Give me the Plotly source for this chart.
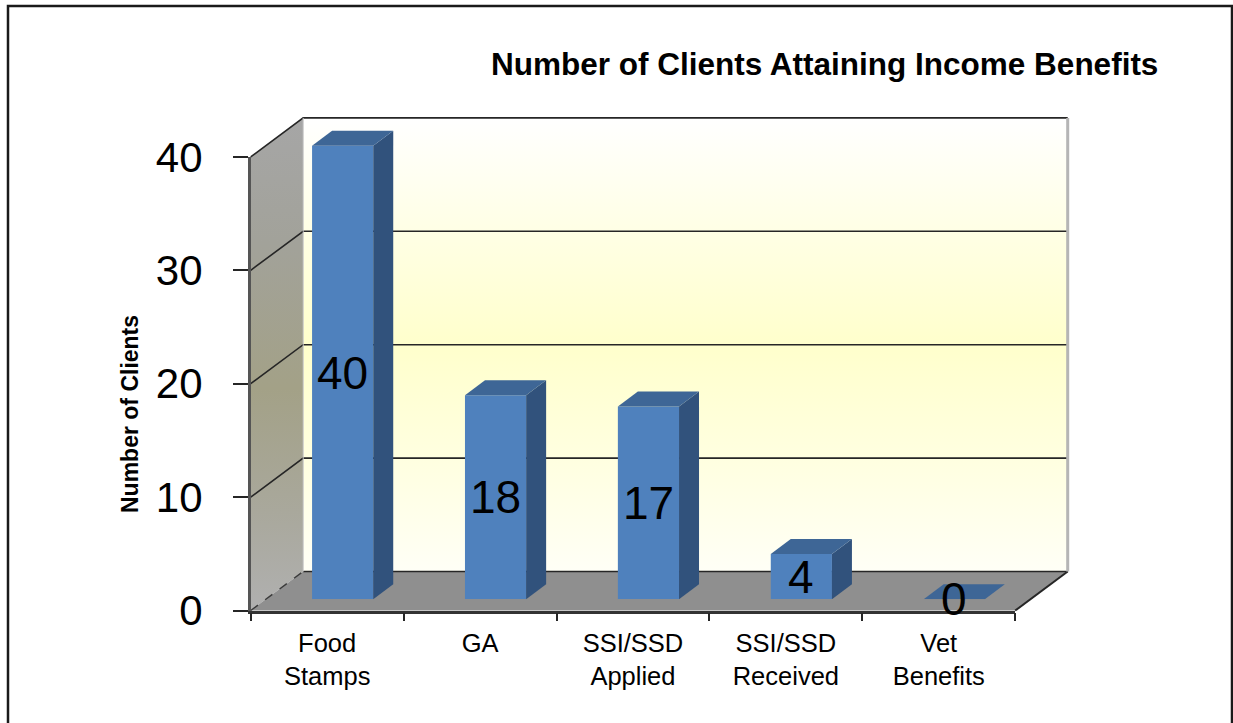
import plotly.graph_objects as go

# ---- data -------------------------------------------------------------
categories = ["Food Stamps", "GA", "SSI/SSD Applied", "SSI/SSD Received", "Vet Benefits"]
tick_labels = ["Food<br>Stamps", "GA", "SSI/SSD<br>Applied", "SSI/SSD<br>Received", "Vet<br>Benefits"]
clients = [40, 18, 17, 4, 0]
y_ticks = [0, 10, 20, 30, 40]

title_text = "Number of Clients Attaining Income Benefits"
y_title = "Number of Clients"

# ---- page / 3-D box geometry (pixels) ----------------------------------
W, H = 1233, 723
FONT = "Liberation Sans, Arial, sans-serif"

FRONT_LEFT = 250.7          # left edge of the front plane
CAT_PX = 152.9              # width of one category slot
FRONT_BASE = 610.5          # value 0 on the front plane
UNIT_PX = 11.34             # pixels per client
WALL_DX, WALL_DY = 52.5, 39.0        # depth of the box
BAR_DX, BAR_DY = 15.5, 11.2          # bar front face sits this far back
BAR_DEPTH_DX, BAR_DEPTH_DY = 20.0, 15.0
BAR_WIDTH = 0.4

n = len(categories)
FRONT_RIGHT = FRONT_LEFT + n * CAT_PX
y_max = max(y_ticks)
BAR_X_MAX = n - 0.5 + 0.4
BAR_Y_MAX = y_max * 1.1


def py(v):
    """pixel row of value v on the front plane"""
    return FRONT_BASE - v * UNIT_PX


def fx(px):
    return px / W


def fy(p):
    return 1 - p / H


top_front, base_front = py(y_max), py(0)
top_back, base_back = top_front - WALL_DY, base_front - WALL_DY
left_back, right_back = FRONT_LEFT + WALL_DX, FRONT_RIGHT + WALL_DX

fig = go.Figure()

# ---- walls and floor (pixel frame subplot) -----------------------------
fig.add_trace(go.Scatter(
    x=[FRONT_LEFT, left_back, left_back, FRONT_LEFT, FRONT_LEFT],
    y=[top_front, top_back, base_back, base_front, top_front],
    fill="toself", mode="lines", line=dict(width=0),
    fillgradient=dict(type="vertical", start=top_back, stop=base_front,
                      colorscale=[[0, "#A6A6A6"], [0.25, "#A2A29A"], [0.55, "#A3A187"],
                                  [0.8, "#A9A89C"], [1, "#B0B0B0"]]),
    hoverinfo="skip", xaxis="x", yaxis="y"))

fig.add_trace(go.Scatter(
    x=[left_back, right_back, right_back, left_back, left_back],
    y=[top_back, top_back, base_back, base_back, top_back],
    fill="toself", mode="lines", line=dict(width=0),
    fillgradient=dict(type="vertical", start=top_back, stop=base_back,
                      colorscale=[[0, "#FFFFFF"], [0.2, "#FFFFEA"], [0.5, "#FFFFCC"],
                                  [0.8, "#FFFFE4"], [1, "#FFFFF6"]]),
    hoverinfo="skip", xaxis="x", yaxis="y"))

fig.add_trace(go.Scatter(
    x=[FRONT_LEFT, FRONT_RIGHT, right_back, left_back, FRONT_LEFT],
    y=[base_front, base_front, base_back, base_back, base_front],
    fill="toself", fillcolor="#8F8F8F", mode="lines", line=dict(width=0),
    hoverinfo="skip", xaxis="x", yaxis="y"))

# gridlines: diagonal across the side wall, then along the back wall
gx, gy = [], []
for v in y_ticks:
    gx += [FRONT_LEFT if v else left_back, left_back, right_back, None]
    gy += [py(v) if v else py(v) - WALL_DY, py(v) - WALL_DY, py(v) - WALL_DY, None]
fig.add_trace(go.Scatter(x=gx, y=gy, mode="lines",
                         line=dict(color="#262626", width=1.6),
                         hoverinfo="skip", xaxis="x", yaxis="y"))

# floor edge meeting the side wall
fig.add_trace(go.Scatter(x=[FRONT_LEFT, left_back], y=[base_front, base_back], mode="lines",
                         line=dict(color="#3A3A3A", width=1.4, dash="dash"),
                         hoverinfo="skip", xaxis="x", yaxis="y"))
# right edge of the floor
fig.add_trace(go.Scatter(x=[FRONT_RIGHT, right_back], y=[base_front, base_back], mode="lines",
                         line=dict(color="#262626", width=2),
                         hoverinfo="skip", xaxis="x", yaxis="y"))
# back edges of the walls
fig.add_trace(go.Scatter(x=[right_back, right_back], y=[top_back, base_back], mode="lines",
                         line=dict(color="#B5B5B5", width=3),
                         hoverinfo="skip", xaxis="x", yaxis="y"))
fig.add_trace(go.Scatter(x=[left_back, left_back], y=[top_back, base_back], mode="lines",
                         line=dict(color="#C4C4C4", width=1),
                         hoverinfo="skip", xaxis="x", yaxis="y"))

# ---- front axes: category labels and value ticks ----------------------
fig.add_trace(go.Scatter(x=categories, y=[0] * n, mode="markers",
                         marker=dict(opacity=0), hoverinfo="skip",
                         xaxis="x2", yaxis="y2"))

# ---- bars ----------------------------------------------------------------
positions = list(range(n))
fig.add_trace(go.Bar(x=positions, y=clients, width=BAR_WIDTH,
                     marker=dict(color="#4F81BD", line=dict(width=0)),
                     hoverinfo="skip", xaxis="x3", yaxis="y3"))

ddx = BAR_DEPTH_DX / CAT_PX
ddy = BAR_DEPTH_DY / UNIT_PX
shapes = []
for i, v in zip(positions, clients):
    left, right = i - BAR_WIDTH / 2, i + BAR_WIDTH / 2
    if v > 0:
        shapes.append(dict(
            type="path", xref="x3", yref="y3", layer="above",
            path=f"M{right},0 L{right},{v} L{right + ddx},{v + ddy} L{right + ddx},{ddy} Z",
            fillcolor="#31527C", line=dict(width=0)))
    shapes.append(dict(
        type="path", xref="x3", yref="y3", layer="above",
        path=f"M{left},{v} L{right},{v} L{right + ddx},{v + ddy} L{left + ddx},{v + ddy} Z",
        fillcolor="#3E6696", line=dict(width=0)))

# outer frame of the chart
shapes.append(dict(type="rect", xref="paper", yref="paper", layer="above",
                   x0=fx(8), x1=fx(1232), y0=fy(6), y1=fy(726),
                   line=dict(color="#1A1A1A", width=2.5), fillcolor="rgba(0,0,0,0)"))

annotations = []
for i, v in zip(positions, clients):
    annotations.append(dict(x=i, y=v / 2, xref="x3", yref="y3", text=str(v),
                            showarrow=False, xanchor="center", yanchor="middle",
                            font=dict(family=FONT, size=46, color="#000000")))

annotations.append(dict(x=fx(824), y=fy(64), xref="paper", yref="paper",
                        text=f"<b>{title_text}</b>", showarrow=False,
                        xanchor="center", yanchor="middle",
                        font=dict(family=FONT, size=31.5, color="#000000")))
annotations.append(dict(x=fx(130), y=fy(414), xref="paper", yref="paper",
                        text=f"<b>{y_title}</b>", showarrow=False, textangle=-90,
                        xanchor="center", yanchor="middle",
                        font=dict(family=FONT, size=23, color="#000000")))

hidden = dict(visible=False, fixedrange=True, automargin=False)

fig.update_layout(
    width=W, height=H,
    margin=dict(l=0, r=0, t=0, b=0, pad=0, autoexpand=False),
    paper_bgcolor="#FFFFFF", plot_bgcolor="rgba(0,0,0,0)",
    showlegend=False,
    font=dict(family=FONT, color="#000000"),
    xaxis=dict(domain=[0, 1], range=[0, W], anchor="y", **hidden),
    yaxis=dict(domain=[0, 1], range=[H, 0], anchor="x", **hidden),
    xaxis2=dict(domain=[fx(FRONT_LEFT), fx(FRONT_RIGHT)], range=[-0.5, n - 0.5],
                anchor="y2", type="category", categoryorder="array",
                categoryarray=categories, tickmode="array", tickvals=categories,
                ticktext=tick_labels, tickson="boundaries",
                ticks="outside", ticklen=8, tickwidth=1.6, tickcolor="#262626",
                showline=True, linecolor="#333333", linewidth=2.5,
                showgrid=False, zeroline=False, ticklabelstandoff=8,
                tickfont=dict(family=FONT, size=25.5, color="#000000"),
                automargin=False, fixedrange=True),
    yaxis2=dict(domain=[fy(base_front), fy(top_front)], range=[0, y_max],
                anchor="x2", tickmode="array", tickvals=y_ticks,
                ticks="outside", ticklen=15, tickwidth=1.6, tickcolor="#262626",
                showline=True, linecolor="#555555", linewidth=2.5,
                showgrid=False, zeroline=False, ticklabelstandoff=22,
                tickfont=dict(family=FONT, size=42, color="#000000"),
                automargin=False, fixedrange=True),
    xaxis3=dict(domain=[fx(FRONT_LEFT + BAR_DX),
                        fx(FRONT_LEFT + BAR_DX + (BAR_X_MAX + 0.5) * CAT_PX)],
                range=[-0.5, BAR_X_MAX], anchor="y3", **hidden),
    yaxis3=dict(domain=[fy(base_front - BAR_DY),
                        fy(base_front - BAR_DY - BAR_Y_MAX * UNIT_PX)],
                range=[0, BAR_Y_MAX], anchor="x3", **hidden),
    shapes=shapes,
    annotations=annotations,
)

fig.write_html("out.html")
